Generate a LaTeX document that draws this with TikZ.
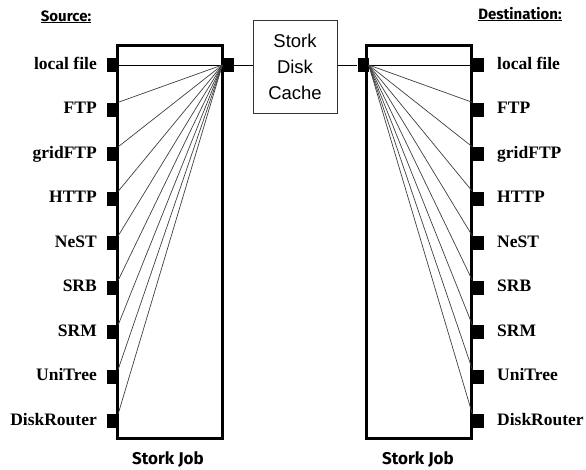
\documentclass[tikz,border=0pt]{standalone}
\usepackage{fontspec}
\setmainfont{Liberation Serif}
\newfontfamily\cachefont{Liberation Sans}
\newfontfamily\handfont{Fira Sans}
\begin{document}
\begin{tikzpicture}[x=1pt,y=-1pt,
  port/.style={fill=black, inner sep=0pt, minimum width=11pt, minimum height=14pt},
  hub/.style={fill=black, inner sep=0pt, minimum width=11pt, minimum height=14pt},
  jobbox/.style={draw, line width=3pt, inner sep=0pt, minimum width=105pt, minimum height=393pt},
  lbl/.style={font=\fontsize{17.5}{20}\selectfont\bfseries, inner sep=0pt},
  head/.style={font=\handfont\fontsize{15}{17}\selectfont\bfseries, inner sep=0pt},
  foot/.style={font=\handfont\fontsize{17}{19}\selectfont\bfseries, inner sep=0pt},
  fan/.style={draw=black!75, line width=0.7pt},
  link/.style={draw=black, line width=0.9pt}]
\useasboundingbox (0,0) rectangle (586,469);
\fill[white] (0,0) rectangle (586,469);
% boxes
\node[jobbox] (jobL) at (169.5,242) {};
\node[jobbox] (jobR) at (419,242) {};
% cache
\node[draw=black!80, line width=1pt, minimum width=84pt, minimum height=93pt, inner sep=0pt,
      align=center, font=\cachefont\fontsize{18.5}{26}\selectfont] (cache) at (295,66.5) {Stork\\Disk\\Cache};
% hubs
\node[hub] (hubL) at (228,65) {};
\node[hub] (hubR) at (363,65) {};
% headings
\node[head, anchor=base] (src) at (66,21) {\underline{Source:}};
\node[head, anchor=base] (dst) at (520,19) {\underline{Destination:}};
\node[foot, anchor=base] (jl) at (168,464) {Stork Job};
\node[foot, anchor=base] (jr) at (418,464) {Stork Job};
% ports and labels
\foreach \i/\t in {0/local file,1/FTP,2/gridFTP,3/HTTP,4/NeST,5/SRB,6/SRM,7/UniTree,8/DiskRouter}{
  \node[port] (pL\i) at (112.5,65+44.5*\i) {};
  \node[port] (pR\i) at (478,65+44.5*\i) {};
  \node[lbl, anchor=base east] (tL\i) at (97,69+44.5*\i) {\t};
  \node[lbl, anchor=base west] (tR\i) at (497,69+44.5*\i) {\t};
}
% fans
\draw[link] (pL0.east) -- (hubL.west);
\draw[link] (hubR.east) -- (pR0.west);
\foreach \i in {1,...,8}{
  \draw[fan] (hubL.west) -- (pL\i.north east);
  \draw[fan] (hubR.east) -- (pR\i.north west);
}
% cache links
\draw[link] (hubL.east) -- (cache.west |- hubL.east);
\draw[link] (cache.east |- hubR.west) -- (hubR.west);
\end{tikzpicture}
\end{document}
